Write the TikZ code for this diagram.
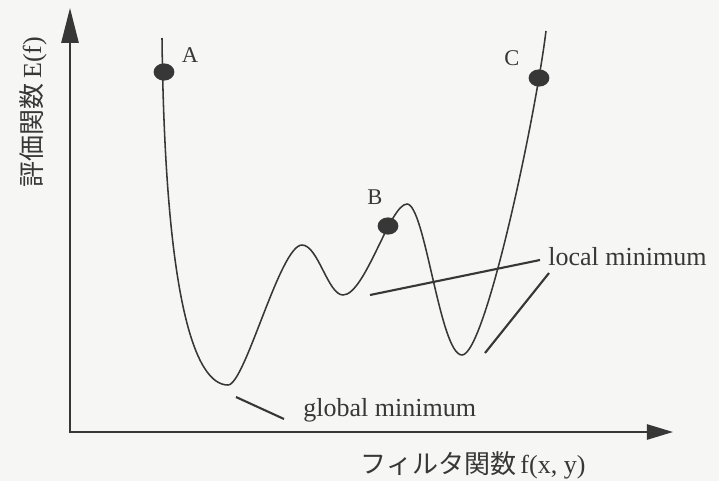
\documentclass[tikz,border=0pt]{standalone}
\usepackage{fontspec}
\setmainfont{Liberation Serif}
\newfontfamily\jpfont{Noto Sans CJK JP}
\usepackage{xcolor}
\usetikzlibrary{arrows.meta, shapes.geometric, positioning}

\definecolor{ink}{RGB}{55,55,55}
\definecolor{paper}{RGB}{246,246,244}

\begin{document}
\begin{tikzpicture}[x=0.025cm, y=-0.025cm,
  axis/.style={draw=ink, line width=1.3pt},
  curve/.style={draw=ink, line width=1.1pt},
  lead/.style={draw=ink, line width=1.5pt},
  dot/.style={ellipse, fill=ink, minimum width=0.52cm, minimum height=0.43cm, inner sep=0pt},
  lbl/.style={font=\fontsize{18.5}{22}\selectfont, text=ink, inner sep=0pt},
  pt/.style={font=\fontsize{16}{19}\selectfont, text=ink, inner sep=0pt}]

% background and frame
\fill[paper] (0,0) rectangle (719,481);
\useasboundingbox (0,0) rectangle (719,481);

% axes
\coordinate (O) at (70,432);
\coordinate (ytip) at (70,8);
\coordinate (xtip) at (673,432);
\draw[axis, -{Triangle[length=0.87cm, width=0.43cm]}] (O) -- (ytip);
\draw[axis, -{Triangle[length=0.65cm, width=0.38cm]}] ([xshift=-0.6pt]O) -- (xtip);

\node[lbl, rotate=90] (ylab) at (33,112) {\jpfont 評価関数\,\rmfamily E(f)};
\node[lbl] (xlab) at (473,465) {\jpfont フィルタ関数\,\rmfamily f(x, y)};

% energy curve
\coordinate (top1) at (162,38);
\coordinate (gmin) at (228,385);
\coordinate (hump) at (302,245);
\coordinate (dip) at (343,295);
\coordinate (peak) at (407,204);
\coordinate (lmin) at (462,355);
\coordinate (top2) at (546,31);
\draw[curve] (top1) .. controls (165,300) and (195,385) .. (gmin)
  .. controls (245,385) and (280,245) .. (hump)
  .. controls (318,245) and (328,295) .. (dip)
  .. controls (365,295) and (390,204) .. (peak)
  .. controls (425,204) and (440,355) .. (lmin)
  .. controls (485,355) and (535,120) .. (top2);

% points
\node[dot] (dotA) at (164,72) {};
\node[dot] (dotB) at (388,226) {};
\node[dot] (dotC) at (539,78) {};
\node[pt] (A) at (190,55) {A};
\node[pt] (B) at (375,197) {B};
\node[pt] (C) at (512,58) {C};

% minimum labels
\node[lbl, anchor=west] (glob) at (303,410) {global minimum};
\coordinate (g1) at (236,397);
\coordinate (g2) at (284,419);
\draw[lead] (g1) -- (g2);

\node[lbl, anchor=west] (loc) at (548,257) {local minimum};
\coordinate (l1a) at (370,295);
\coordinate (l1b) at (540,260);
\coordinate (l2a) at (485,353);
\coordinate (l2b) at (549,273);
\draw[lead] (l1a) -- (l1b);
\draw[lead] (l2a) -- (l2b);

\end{tikzpicture}
\end{document}
